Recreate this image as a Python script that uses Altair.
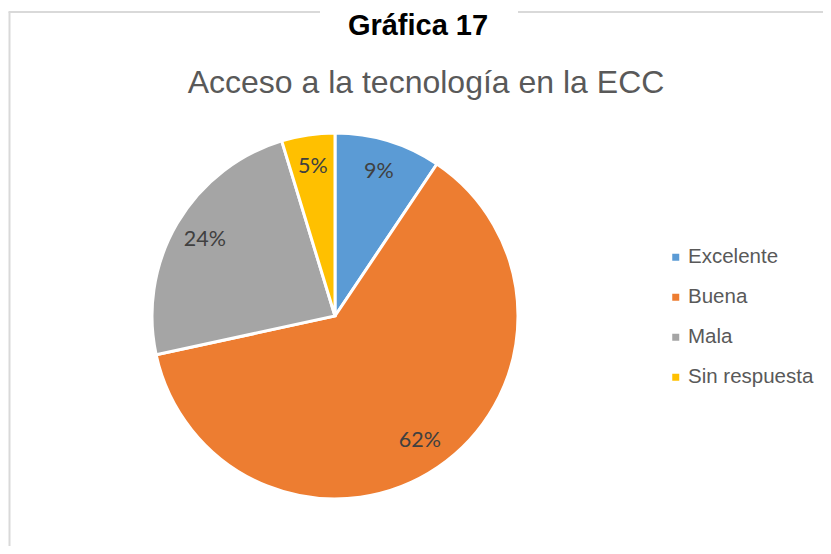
import altair as alt
import pandas as pd

categories = ["Excelente", "Buena", "Mala", "Sin respuesta"]
values = [9.4, 62.2, 23.7, 4.7]
labels = ["9%", "62%", "24%", "5%"]
colors = ["#5B9BD5", "#ED7D31", "#A5A5A5", "#FFC000"]

header_text = "Gráfica 17"
title_text = "Acceso a la tecnología en la ECC"

df = pd.DataFrame({
    "category": categories,
    "value": values,
    "label": labels,
    "idx": list(range(len(categories))),
})
one = pd.DataFrame({"a": [0]})

CX, CY, R = 327, 308, 183
FRAME = "#D9D9D9"

frame_left = alt.Chart(one).mark_rule(color=FRAME, strokeWidth=2).encode(
    x=alt.value(1.5), y=alt.value(4), y2=alt.value(560))
frame_top1 = alt.Chart(one).mark_rule(color=FRAME, strokeWidth=2).encode(
    x=alt.value(0.5), x2=alt.value(312), y=alt.value(4))
frame_top2 = alt.Chart(one).mark_rule(color=FRAME, strokeWidth=2).encode(
    x=alt.value(510), x2=alt.value(830), y=alt.value(4))

header = alt.Chart(one).mark_text(
    text=header_text, font="Liberation Sans", fontWeight="bold", fontSize=29,
    color="#000000", align="center", baseline="alphabetic"
).encode(x=alt.value(410), y=alt.value(27))

title = alt.Chart(one).mark_text(
    text=title_text, font="Liberation Sans", fontSize=32,
    color="#595959", align="center", baseline="alphabetic"
).encode(x=alt.value(418), y=alt.value(85))

base = alt.Chart(df).encode(
    theta=alt.Theta("value:Q", stack=True),
    order=alt.Order("idx:Q"),
    x=alt.value(CX),
    y=alt.value(CY),
)

arcs = base.mark_arc(outerRadius=R, stroke="white", strokeWidth=3).encode(
    color=alt.Color(
        "category:N",
        scale=alt.Scale(domain=categories, range=colors),
        legend=alt.Legend(
            title=None, orient="none", legendX=657.5, legendY=239,
            symbolType="square", symbolSize=49, symbolStrokeWidth=0,
            labelFontSize=20.5, labelFont="Liberation Sans", labelColor="#595959",
            rowPadding=19, labelOffset=2, padding=0,
        ),
    )
)

texts = base.mark_text(radius=151, fontSize=21.5, font="Lato", color="#404040").encode(
    text="label:N"
)

chart = alt.layer(
    frame_left, frame_top1, frame_top2, header, title, arcs, texts
).properties(
    width=815, height=538, autosize=alt.AutoSizeParams(type="none"), padding=0
).configure_view(stroke=None)

chart.save("out.html", embed_options={"renderer": "svg", "actions": False})
